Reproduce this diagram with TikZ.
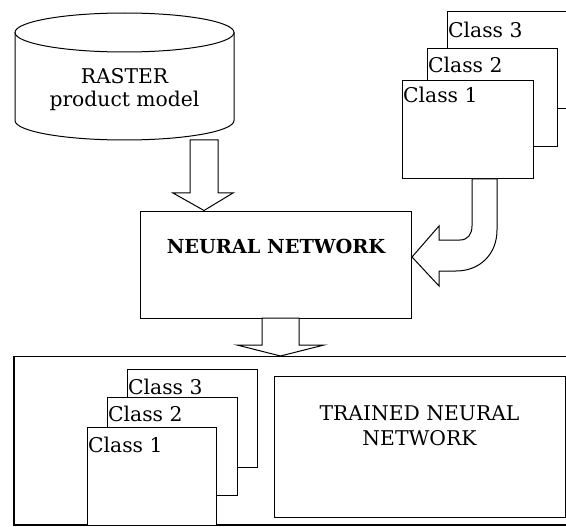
\documentclass[tikz,border=0pt]{standalone}
\usepackage{fontspec}
\setmainfont{DejaVu Serif}
\usetikzlibrary{calc}
\begin{document}
\begin{tikzpicture}[x=1pt,y=-1pt,
  line/.style={draw=black, line width=1pt, line join=miter},
  pane/.style={draw=black, line width=1pt, fill=white, inner sep=0pt, outer sep=0pt, anchor=north west},
  txt/.style={font=\fontsize{20.3}{25}\selectfont, inner sep=0pt, anchor=base},
  lbl/.style={font=\fontsize{20.3}{25}\selectfont, inner sep=0pt, anchor=base west},
  blockarrow/.style={draw=black, line width=1pt, fill=white, line join=miter}
]
\useasboundingbox (0,0) rectangle (566,527);

% cylinder (RASTER product model)
\coordinate (cylc) at (124.5,32.5);
\draw[line] (15,32.5) -- (15,120.5) arc[start angle=180, end angle=0, x radius=109.5, y radius=19.5] -- (234,32.5);
\draw[line] (cylc) ellipse [x radius=109.5, y radius=19.5];
\node[txt] (raster) at (124.5,84) {RASTER};
\node[txt] (rastermodel) at (124.5,107) {product model};

% neural network box
\node[pane, minimum width=271pt, minimum height=107pt] (nn) at (140,211) {};
\node[txt, font=\fontsize{19.3}{22}\selectfont\bfseries] (nnlabel) at (276,254) {NEURAL NETWORK};

% arrow cylinder -> NN
\draw[blockarrow] (190,140) -- (218,140) -- (218,193) -- (233,193) -- (204,210.5) -- (173,193) -- (190,193) -- cycle;

% top right class stack
\node[pane, minimum width=130pt, minimum height=97pt] (tc3) at (447,12) {};
\node[lbl] (tc3l) at (448,38) {Class 3};
\node[pane, minimum width=130pt, minimum height=98pt] (tc2) at (427,49) {};
\node[lbl] (tc2l) at (428,73) {Class 2};
\node[pane, minimum width=131pt, minimum height=98pt] (tc1) at (402,81) {};
\node[lbl] (tc1l) at (403,103) {Class 1};

% curved arrow classes -> NN
\draw[blockarrow] (472,179) -- (472,226)
  .. controls (472,234) and (468,240) .. (460,240)
  -- (439,240) -- (439,226) -- (412,257) -- (439,286) -- (439,271) -- (456,271)
  .. controls (480,271) and (497,254) .. (497,230)
  -- (497,179) -- cycle;

% arrow NN -> result
\draw[blockarrow] (262,318) -- (299,318) -- (299,345) -- (324,345) -- (280.5,356) -- (237,345) -- (262,345) -- cycle;

% big result box
\draw[draw=black, line width=1.8pt] (14,356.5) rectangle (575,525);
\coordinate (result) at (14,356.5);

% bottom class stack
\node[pane, minimum width=130pt, minimum height=98pt] (bc3) at (127,369) {};
\node[lbl] (bc3l) at (128,394) {Class 3};
\node[pane, minimum width=130pt, minimum height=98pt] (bc2) at (107,397) {};
\node[lbl] (bc2l) at (108,421) {Class 2};
\node[pane, minimum width=129pt, minimum height=98pt] (bc1) at (87,427) {};
\node[lbl] (bc1l) at (88,452) {Class 1};

% trained neural network box
\node[pane, minimum width=291pt, minimum height=141pt] (tnn) at (274,376) {};
\node[txt] (tnnl1) at (419.5,420) {TRAINED NEURAL};
\node[txt] (tnnl2) at (419.5,445) {NETWORK};
\end{tikzpicture}
\end{document}
